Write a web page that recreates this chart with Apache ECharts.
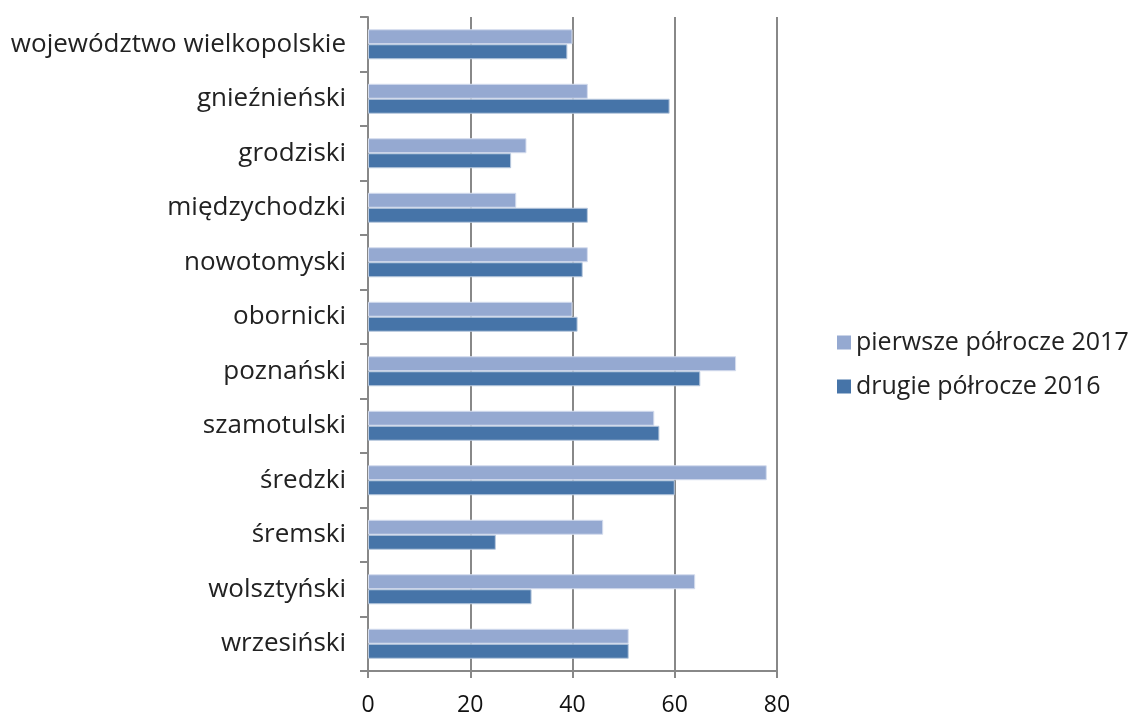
<!DOCTYPE html>
<html><head><meta charset="utf-8">
<script src="https://cdn.jsdelivr.net/npm/echarts@6/dist/echarts.min.js"></script>
<style>html,body{margin:0;padding:0;background:#fff}#c{width:1133px;height:717px}</style>
</head><body><div id="c"></div>
<script>
const categories = ['województwo wielkopolskie','gnieźnieński','grodziski','międzychodzki','nowotomyski','obornicki','poznański','szamotulski','średzki','śremski','wolsztyński','wrzesiński'];
const seriesNames = ['pierwsze półrocze 2017','drugie półrocze 2016'];
const first2017 = [40,43,31,29,43,40,72,56,78,46,64,51];
const second2016 = [39,59,28,43,42,41,65,57,60,25,32,51];
const xTicks = [0,20,40,60,80];

const chart = echarts.init(document.getElementById('c'));
const font = '"Open Sans", "Noto Sans", sans-serif';
chart.setOption({
  animation:false,
  textStyle:{fontFamily:font},
  grid:{left:368,right:356,top:17,bottom:45},
  legend:{
    orient:'vertical', left:832, top:325, itemGap:19,
    itemWidth:14, itemHeight:14, icon:'rect', itemStyle:{borderWidth:0},
    textStyle:{fontSize:25,color:'#222',fontFamily:font},
    data:seriesNames
  },
  xAxis:{
    type:'value', min:xTicks[0], max:xTicks[xTicks.length-1], interval:20,
    axisLine:{show:true,lineStyle:{color:'#888',width:2}},
    axisTick:{show:true,length:7,lineStyle:{color:'#888',width:2}},
    axisLabel:{fontSize:23,color:'#111',margin:23,fontFamily:font},
    splitLine:{show:true,lineStyle:{color:'#888',width:2}}
  },
  yAxis:{
    type:'category', data:categories, inverse:true,
    axisLine:{show:true,lineStyle:{color:'#888',width:2}},
    axisTick:{show:true,length:8,lineStyle:{color:'#888',width:2}},
    axisLabel:{fontSize:26,color:'#222',margin:22,fontFamily:font}
  },
  series:[
    {name:seriesNames[0],type:'bar',data:first2017,barWidth:15,barGap:'0%',
     itemStyle:{color:'#95A9D1',borderColor:'#D5DDEE',borderWidth:1}},
    {name:seriesNames[1],type:'bar',data:second2016,barWidth:15,barGap:'0%',
     itemStyle:{color:'#4674A8',borderColor:'#B9C9DE',borderWidth:1}}
  ]
});
</script></body></html>
